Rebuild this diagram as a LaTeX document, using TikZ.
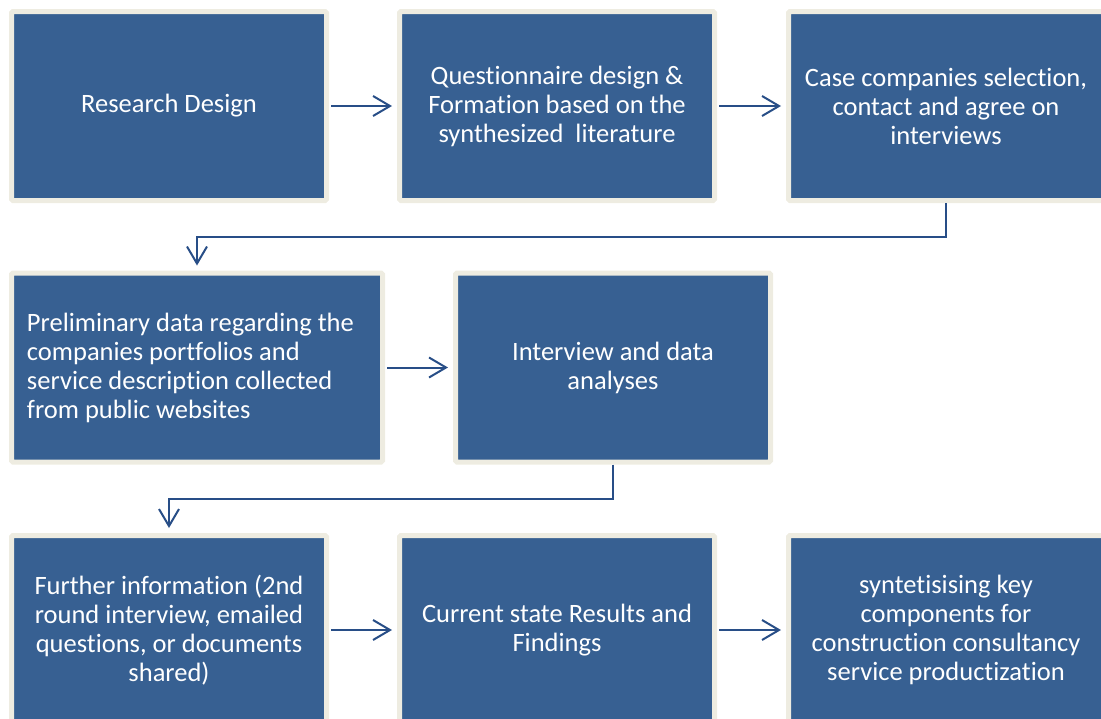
\documentclass[tikz,border=0pt]{standalone}
\usepackage{fontspec}
\setmainfont{Carlito}[Ligatures=NoCommon]
\usetikzlibrary{arrows.meta}
\definecolor{boxblue}{HTML}{376092}
\definecolor{boxedge}{HTML}{EEECE1}
\definecolor{arrowblue}{RGB}{40,78,135}
\begin{document}
\begin{tikzpicture}[x=1pt,y=-1pt,
  stepbox/.style={draw=boxedge, line width=5pt, fill=boxblue, rounded corners=1.5pt,
    minimum width=315pt, minimum height=189pt, inner sep=0pt, text=white,
    align=center, font=\fontsize{26.5pt}{29pt}\selectfont},
  wide/.style={minimum width=371pt},
  arr/.style={draw=arrowblue, line width=2pt, -{Straight Barb[length=17pt,width=20pt,line width=2pt]},
    shorten >=5pt, shorten <=2pt}]
\useasboundingbox (0,0) rectangle (1101,718);
\clip (0,0) rectangle (1101,718);
\node[stepbox] (b1) at (169,106) {Research Design};
\node[stepbox] (b2) at (557,106) {Questionnaire design \&\\Formation based on the\\synthesized\ \ literature};
\node[stepbox] (b3) at (946,106) {Case companies selection,\\contact and agree on\\interviews};
\node[stepbox, wide, text width=340pt, align=flush left] (b4) at (197,367.5) {Preliminary data regarding the\\companies portfolios and\\service description collected\\from public websites};
\node[stepbox] (b5) at (613,367.5) {Interview and data\\analyses};
\node[stepbox] (b6) at (169,630) {Further information (2nd\\round interview, emailed\\questions, or documents\\shared)};
\node[stepbox] (b7) at (557,630) {Current state Results and\\Findings};
\node[stepbox] (b8) at (946,630) {syntetisising key\\components for\\construction consultancy\\service productization};
\draw[arr] (b1) -- (b2);
\draw[arr] (b2) -- (b3);
\draw[arr] (b4) -- (b5);
\draw[arr] (b6) -- (b7);
\draw[arr] (b7) -- (b8);
\draw[arr, shorten <=0pt] (b3.south) -- (b3.south |- 0,237) -| (b4.north);
\draw[arr, shorten <=0pt] (b5.south) -- (b5.south |- 0,499) -| (b6.north -| 169,0);
\end{tikzpicture}
\end{document}
